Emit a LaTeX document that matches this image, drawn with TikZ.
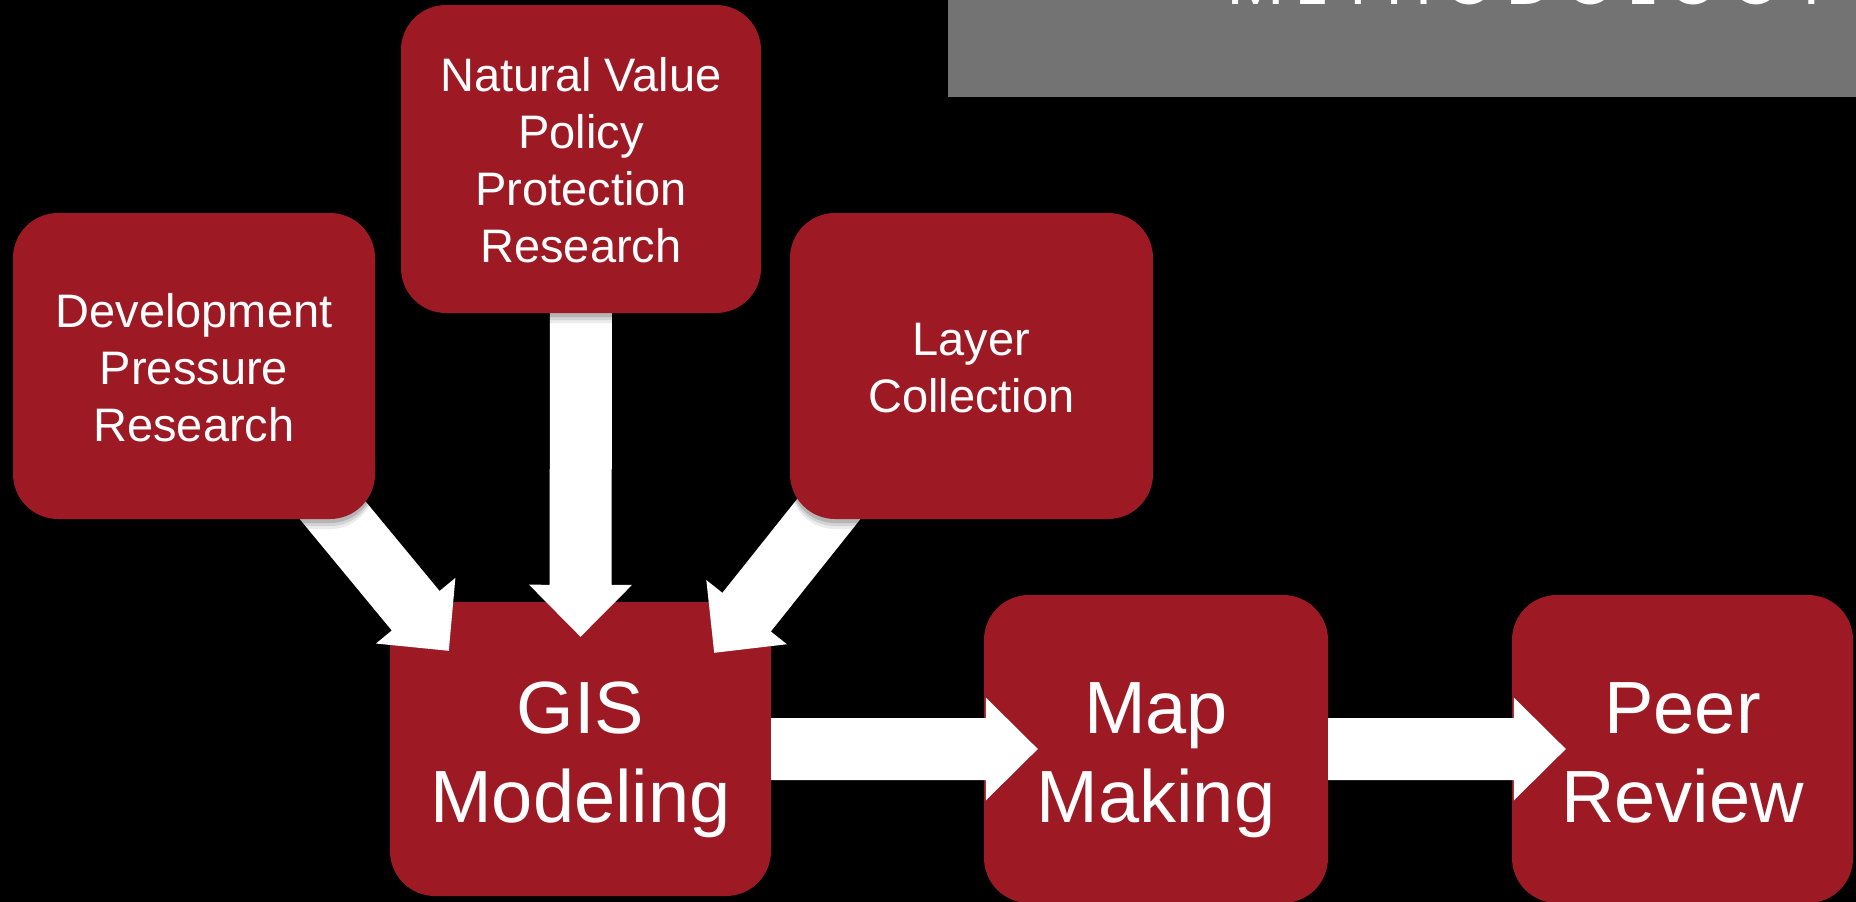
\documentclass[tikz,border=0pt]{standalone}
\usepackage{fontspec}
\setmainfont{Liberation Sans}
\newfontfamily\titlefont{Poppins}
\usetikzlibrary{calc,shadows}
\definecolor{boxred}{RGB}{157,26,36}
\definecolor{bargray}{RGB}{115,115,115}
\pgfdeclarelayer{fg}
\pgfsetlayers{main,fg}
\newcommand\lstrut{\rule[-0.2em]{0pt}{1.18em}}
\tikzset{
  box/.style={fill=boxred, rounded corners=45pt, inner sep=0pt, align=center, text=white},
  srcbox/.style={box,
    drop shadow={shadow xshift=0pt, shadow yshift=-10pt, opacity=0.08, fill=black},
    drop shadow={shadow xshift=0pt, shadow yshift=-7pt, opacity=0.1, fill=black},
    drop shadow={shadow xshift=0pt, shadow yshift=-4pt, opacity=0.14, fill=black}},
  smalltext/.style={font=\fontsize{47}{57}\selectfont},
  bigtext/.style={font=\fontsize{74}{89}\selectfont},
  blockarr/.style={fill=white, to path={
    ($(\tikztostart)!31pt!90:(\tikztotarget)$)
    -- ($(\tikztotarget)!52pt!(\tikztostart)!31pt!90:(\tikztotarget)$)
    -- ($(\tikztotarget)!52pt!(\tikztostart)!51.5pt!90:(\tikztotarget)$)
    -- (\tikztotarget)
    -- ($(\tikztotarget)!52pt!(\tikztostart)!51.5pt!-90:(\tikztotarget)$)
    -- ($(\tikztotarget)!52pt!(\tikztostart)!31pt!-90:(\tikztotarget)$)
    -- ($(\tikztostart)!31pt!-90:(\tikztotarget)$)
    -- cycle}}
}
\begin{document}
\begin{tikzpicture}[x=1pt,y=-1pt]
\useasboundingbox (0,0) rectangle (1856,902);
\clip (0,0) rectangle (1856,902);
\fill[black] (0,0) rectangle (1856,902);

% title bar
\node[fill=bargray, inner sep=0pt, minimum width=908pt, minimum height=97pt, anchor=north west] (bar) at (948,0) {};
\node[anchor=base west, inner sep=0pt, text=white, font=\titlefont\fontsize{66}{66}\selectfont] (title) at (1227,5)
  {\makebox[604pt][s]{M\hfill E\hfill T\hfill H\hfill O\hfill D\hfill O\hfill L\hfill O\hfill G\hfill Y}};

% target boxes (below the arrows)
\node[box, bigtext, minimum width=381pt, minimum height=294pt] (gis) at (580.5,749)
  {\lstrut GIS\\\lstrut Modeling};
\node[box, bigtext, minimum width=344pt, minimum height=308pt] (map) at (1156,749)
  {\lstrut Map\\\lstrut Making};
\node[box, bigtext, minimum width=341pt, minimum height=308pt] (peer) at (1682.5,749)
  {\lstrut Peer\\\lstrut Review};

% source boxes (above the arrows)
\begin{pgfonlayer}{fg}
\node[srcbox, smalltext, minimum width=362pt, minimum height=306pt] (dev) at (194,366)
  {\lstrut Development\\\lstrut Pressure\\\lstrut Research};
\node[srcbox, smalltext, minimum width=360pt, minimum height=308pt] (nat) at (581,159)
  {\lstrut Natural Value\\\lstrut Policy\\\lstrut Protection\\\lstrut Research};
\node[srcbox, smalltext, minimum width=363pt, minimum height=306pt] (lay) at (971.5,366)
  {\lstrut Layer\\\lstrut Collection};
\end{pgfonlayer}

% arrow end points
\coordinate (devout) at ($(dev.south east)+(-55,-24)$);
\coordinate (natout) at ($(nat.south)+(0,-20)$);
\coordinate (layout) at ($(lay.south west)+(50,-24)$);
\coordinate (gisinl) at ($(gis.north west)+(59,49)$);
\coordinate (gisinc) at ($(gis.north)+(0,35)$);
\coordinate (gisinr) at ($(gis.north east)+(-57,51)$);
\coordinate (mapin) at ($(map.west)+(54,0)$);
\coordinate (peerin) at ($(peer.west)+(54,0)$);

% block arrows
\path[blockarr] (devout) to (gisinl);
\path[blockarr] (natout) to (gisinc);
\path[blockarr] (layout) to (gisinr);
\path[blockarr] (gis.east) to (mapin);
\path[blockarr] (map.east) to (peerin);
\end{tikzpicture}
\end{document}
